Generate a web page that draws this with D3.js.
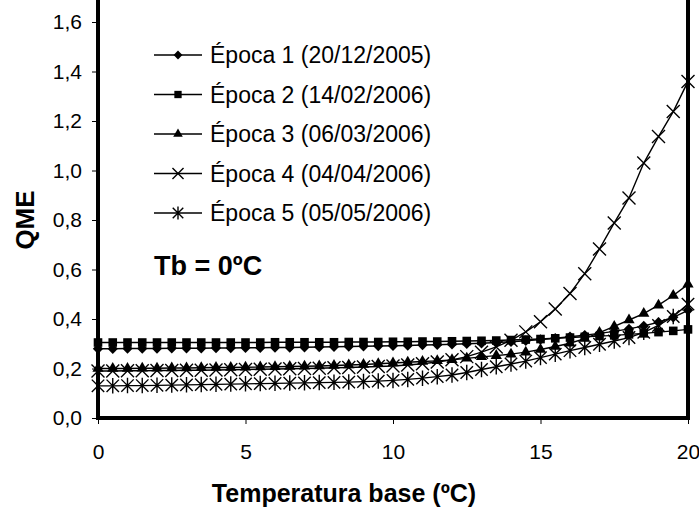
<!DOCTYPE html>
<html>
<head>
<meta charset="utf-8">
<script src="https://cdn.jsdelivr.net/npm/d3@7"></script>
<style>
  body { margin: 0; background: #fff; }
  svg { display: block; font-family: "Liberation Sans", Arial, sans-serif; }
</style>
</head>
<body>
<div id="chart"></div>
<script>
// base temperatures, 0 to 20 by 0.5
var temps = [0, 0.5, 1, 1.5, 2, 2.5, 3, 3.5, 4, 4.5, 5, 5.5, 6, 6.5, 7, 7.5, 8, 8.5, 9, 9.5,
  10, 10.5, 11, 11.5, 12, 12.5, 13, 13.5, 14, 14.5, 15, 15.5, 16, 16.5, 17, 17.5, 18, 18.5, 19, 19.5, 20];

var seriesNames = ["Época 1 (20/12/2005)", "Época 2 (14/02/2006)", "Época 3 (06/03/2006)",
  "Época 4 (04/04/2006)", "Época 5 (05/05/2006)"];

var epoca1 = [0.280, 0.280, 0.281, 0.281, 0.281, 0.282, 0.282, 0.282, 0.283, 0.283, 0.284, 0.284, 0.285, 0.285,
  0.286, 0.287, 0.288, 0.289, 0.290, 0.291, 0.292, 0.293, 0.295, 0.296, 0.298, 0.300, 0.302, 0.305, 0.308, 0.312,
  0.317, 0.322, 0.328, 0.335, 0.342, 0.350, 0.360, 0.372, 0.387, 0.407, 0.435];
var epoca2 = [0.305, 0.305, 0.305, 0.305, 0.305, 0.305, 0.305, 0.305, 0.305, 0.305, 0.305, 0.305, 0.306, 0.306,
  0.306, 0.306, 0.306, 0.307, 0.307, 0.307, 0.308, 0.308, 0.309, 0.309, 0.310, 0.311, 0.312, 0.313, 0.315, 0.317,
  0.319, 0.322, 0.325, 0.328, 0.331, 0.334, 0.338, 0.342, 0.347, 0.352, 0.358];
var epoca3 = [0.200, 0.200, 0.200, 0.201, 0.201, 0.202, 0.202, 0.203, 0.204, 0.204, 0.205, 0.206, 0.207, 0.208,
  0.209, 0.210, 0.212, 0.214, 0.216, 0.219, 0.222, 0.225, 0.228, 0.231, 0.235, 0.241, 0.247, 0.252, 0.258, 0.266,
  0.277, 0.289, 0.302, 0.321, 0.345, 0.370, 0.396, 0.422, 0.456, 0.495, 0.540];
var epoca4 = [0.190, 0.190, 0.191, 0.191, 0.192, 0.192, 0.193, 0.193, 0.194, 0.195, 0.196, 0.197, 0.198, 0.199,
  0.200, 0.201, 0.203, 0.204, 0.206, 0.208, 0.210, 0.214, 0.219, 0.226, 0.235, 0.248, 0.266, 0.287, 0.314, 0.348,
  0.389, 0.440, 0.503, 0.583, 0.683, 0.788, 0.889, 1.030, 1.137, 1.238, 1.360];
var epoca5 = [0.130, 0.130, 0.131, 0.131, 0.132, 0.133, 0.134, 0.135, 0.136, 0.137, 0.138, 0.139, 0.140, 0.141,
  0.142, 0.143, 0.144, 0.145, 0.147, 0.149, 0.152, 0.156, 0.161, 0.167, 0.174, 0.184, 0.196, 0.207, 0.218, 0.230,
  0.244, 0.258, 0.272, 0.285, 0.298, 0.311, 0.325, 0.346, 0.374, 0.410, 0.460];

var xTicks = [0, 5, 10, 15, 20];
var yTicks = [0, 0.2, 0.4, 0.6, 0.8, 1.0, 1.2, 1.4, 1.6];
var markerTypes = ["diamond", "square", "triangle", "cross", "star"];

var width = 699, height = 511;
var margin = { top: 22, right: 11, bottom: 93, left: 98 };
var w = width - margin.left - margin.right,
    h = height - margin.top - margin.bottom;

var svg = d3.select("#chart").append("svg")
  .attr("width", width)
  .attr("height", height);

var x = d3.scaleLinear().domain([0, 20]).range([0, w]);
var y = d3.scaleLinear().domain([0, 1.6]).range([h, 0]);

var g = svg.append("g")
  .attr("transform", "translate(" + margin.left + "," + margin.top + ")");

var fmt = function(d) { return d3.format(".1f")(d).replace(".", ","); };

// axes
var yAxis = g.append("g")
  .call(d3.axisLeft(y).tickValues(yTicks).tickSize(6).tickPadding(10).tickFormat(fmt));
var xAxis = g.append("g")
  .attr("transform", "translate(0," + h + ")")
  .call(d3.axisBottom(x).tickValues(xTicks).tickSize(6).tickPadding(20).tickFormat(d3.format("d")));

[yAxis, xAxis].forEach(function(a) {
  a.select(".domain").remove();
  a.selectAll(".tick line").attr("stroke", "#000").attr("stroke-width", 1);
  a.selectAll("text").attr("fill", "#000").style("font-size", "21px")
    .style("font-family", "'Liberation Sans', Arial, sans-serif");
});

// frame: left, bottom, right
g.append("path")
  .attr("d", "M0," + (-margin.top) + "V" + h + "H" + w + "V" + (-margin.top))
  .attr("fill", "none")
  .attr("stroke", "#000")
  .attr("stroke-width", 4);

var series = [epoca1, epoca2, epoca3, epoca4, epoca5];

var line = d3.line()
  .x(function(d, i) { return x(temps[i]); })
  .y(function(d) { return y(d); });

function drawMarker(sel, type, k) {
  k = k || 1;
  if (type === "diamond") {
    var r = 5.2 * k;
    sel.append("path").attr("d", "M0," + -r + "L" + r + ",0L0," + r + "L" + -r + ",0Z").attr("fill", "#000");
  } else if (type === "square") {
    sel.append("rect").attr("x", -4.3 * k).attr("y", -4.3 * k).attr("width", 8.6 * k).attr("height", 8.6 * k).attr("fill", "#000");
  } else if (type === "triangle") {
    sel.append("path").attr("d", d3.symbol(d3.symbolTriangle, 55 * k * k)).attr("fill", "#000");
  } else if (type === "cross") {
    var c = 6.5 * k;
    sel.append("path").attr("d", "M" + -c + "," + -c + "L" + c + "," + c + "M" + -c + "," + c + "L" + c + "," + -c)
      .attr("stroke", "#000").attr("stroke-width", 1.4).attr("fill", "none");
  } else {
    var s = 6.2 * k;
    sel.append("path").attr("d", "M" + -s + "," + -s + "L" + s + "," + s + "M" + -s + "," + s + "L" + s + "," + -s +
        "M0," + (-s * 1.25) + "V" + (s * 1.25))
      .attr("stroke", "#000").attr("stroke-width", 1.4).attr("fill", "none");
  }
}

series.forEach(function(vals, s) {
  var sg = g.append("g");
  sg.append("path")
    .datum(vals)
    .attr("d", line)
    .attr("fill", "none")
    .attr("stroke", "#000")
    .attr("stroke-width", 1.4);
  sg.selectAll("g.m")
    .data(vals)
    .enter().append("g")
    .attr("class", "m")
    .attr("transform", function(d, i) { return "translate(" + x(temps[i]) + "," + y(d) + ")"; })
    .each(function() { drawMarker(d3.select(this), markerTypes[s]); });
});

// legend
var legend = svg.append("g");
var rows = legend.selectAll("g")
  .data(seriesNames)
  .enter().append("g")
  .attr("transform", function(d, i) { return "translate(154," + (55 + i * 39.5) + ")"; });

rows.append("line")
  .attr("x1", 0).attr("x2", 48)
  .attr("stroke", "#000").attr("stroke-width", 1.3);
rows.append("g")
  .attr("transform", "translate(24,0)")
  .each(function(d, i) { drawMarker(d3.select(this), markerTypes[i], 0.85); });
rows.append("text")
  .attr("x", 56)
  .attr("y", 8)
  .style("font-size", "23px")
  .text(function(d) { return d; });

svg.append("text")
  .attr("x", 154)
  .attr("y", 275)
  .style("font-size", "27px")
  .style("font-weight", "bold")
  .text("Tb = 0ºC");

// axis titles
svg.append("text")
  .attr("x", 344)
  .attr("y", 502)
  .attr("text-anchor", "middle")
  .style("font-size", "25px")
  .style("font-weight", "bold")
  .text("Temperatura base (ºC)");

svg.append("text")
  .attr("transform", "translate(34,220) rotate(-90)")
  .attr("text-anchor", "middle")
  .style("font-size", "26px")
  .style("font-weight", "bold")
  .text("QME");
</script>
</body>
</html>
